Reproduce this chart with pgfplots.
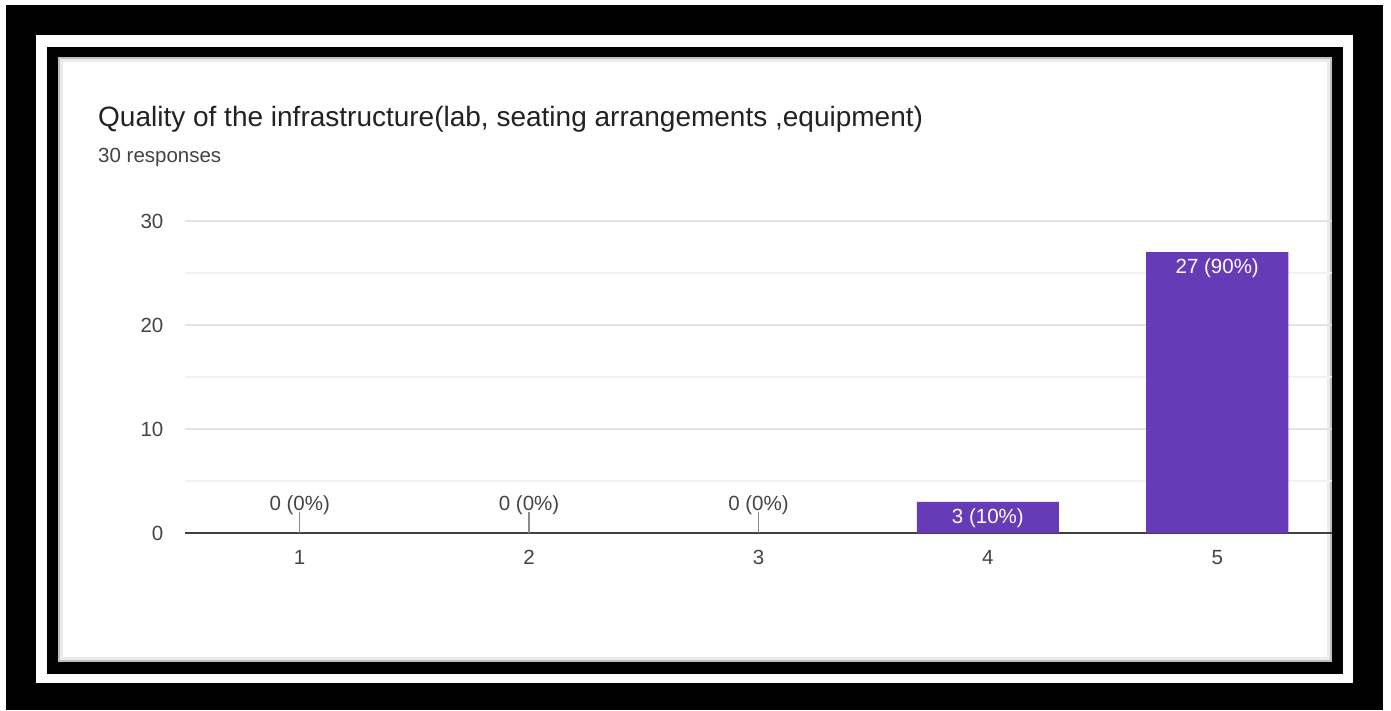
\documentclass[border=0pt]{standalone}
\usepackage{fontspec}
\setmainfont{Liberation Sans}
\usepackage{pgfplots}
\pgfplotsset{compat=1.18}
\definecolor{barpurple}{HTML}{673AB7}
\definecolor{gridgray}{HTML}{E3E3E3}
\definecolor{minorgray}{HTML}{F2F2F2}
\definecolor{txtgray}{HTML}{444444}
\definecolor{titlegray}{HTML}{222222}
\begin{document}
\begin{tikzpicture}[x=1pt,y=1pt]
\useasboundingbox (0,0) rectangle (1391,710);
\fill[white] (0,0) rectangle (1391,710);
\fill[black] (6,0) rectangle (1383,705);
\fill[white] (36,27) rectangle (1353,675);
\fill[black] (47,36) rectangle (1343,663);
\fill[white] (58,48) rectangle (1332,653);
\draw[black!25, line width=2pt] (59,49) rectangle (1331,652);
\draw[black!8, line width=3pt] (61.5,51.5) rectangle (1328.5,649.5);
\node[anchor=base west, inner sep=0pt, text=titlegray, font=\fontsize{28}{33}\selectfont] at (98,583) {Quality of the infrastructure(lab, seating arrangements ,equipment)};
\node[anchor=base west, inner sep=0pt, text=txtgray, font=\fontsize{20.5}{24}\selectfont] at (98,547) {30 responses};
\begin{axis}[
  at={(185pt,177pt)}, anchor=south west,
  width=1147pt, height=312pt, scale only axis,
  xmin=0.5, xmax=5.5, ymin=0, ymax=30,
  axis x line=bottom, axis y line=left,
  axis line style={-},
  x axis line style={draw=black!75, line width=1.8pt},
  y axis line style={draw=none},
  tick style={draw=none},
  xtick={1,2,3,4,5},
  ytick={0,10,20,30},
  minor ytick={5,15,25},
  ymajorgrids, yminorgrids,
  major grid style={gridgray, line width=1.2pt},
  minor grid style={minorgray, line width=1.2pt},
  /pgf/number format/assume math mode=true,
  ticklabel style={font=\fontsize{20.5}{24}\selectfont, text=txtgray},
  yticklabel style={xshift=-16pt},
  xticklabel style={yshift=-12pt},
  clip=false,
]
\addplot[ybar, bar width=0.62, fill=barpurple, draw=none,
  point meta=explicit symbolic, nodes near coords,
  every node near coord/.append style={text=white, anchor=north, yshift=-3pt,
    font=\fontsize{20.5}{24}\selectfont}]
  coordinates {(4,3) [3 (10\%)] (5,27) [27 (90\%)]};
\addplot[ycomb, draw=black!45, line width=1.5pt, no markers]
  coordinates {(1,2) (2,2) (3,2)};
\addplot[draw=none, no markers, point meta=explicit symbolic, nodes near coords,
  every node near coord/.append style={text=txtgray, anchor=south, yshift=15pt,
    font=\fontsize{20.5}{24}\selectfont}]
  coordinates {(1,0) [0 (0\%)] (2,0) [0 (0\%)] (3,0) [0 (0\%)]};
\end{axis}
\end{tikzpicture}
\end{document}
